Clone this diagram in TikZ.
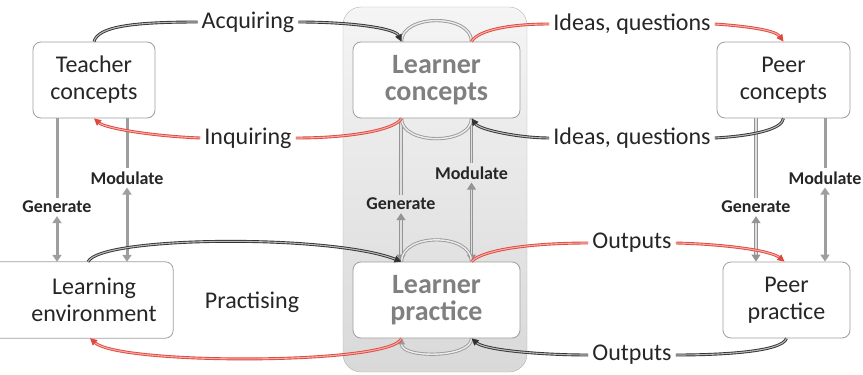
\documentclass[tikz,border=0pt]{standalone}
\usepackage{fontspec}
\setmainfont{Carlito}
\usetikzlibrary{arrows.meta,calc}
\definecolor{redline}{RGB}{224,72,62}
\definecolor{redfill}{RGB}{246,172,166}
\begin{document}
\begin{tikzpicture}[x=1pt,y=-1pt,
  boxline/.style={draw=black!38, rounded corners=8pt, fill=white, line width=0.8pt},
  box/.style={boxline, minimum height=76pt, align=center, inner sep=0pt,
    font=\fontsize{24}{27}\selectfont, text=black!85},
  lbox/.style={box, font=\fontsize{28}{27}\selectfont\bfseries, text=black!50},
  plain/.style={minimum height=76pt, align=center, inner sep=0pt,
    font=\fontsize{24}{27}\selectfont, text=black!85},
  lbl/.style={font=\fontsize{24}{27}\selectfont, text=black!85, inner sep=4pt},
  slbl/.style={font=\fontsize{18}{20}\selectfont\bfseries, text=black!85, inner sep=3pt},
  blk/.style={draw=black!80, double=gray!55, line width=0.9pt, double distance=1.1pt},
  redc/.style={draw=redline, double=redfill, line width=0.9pt, double distance=1.1pt},
  tip/.style={-{Triangle[length=7pt,width=7pt]}},
  garr/.style={draw=black!38, line width=3pt, {Triangle[length=7pt,width=9pt]}-{Triangle[length=7pt,width=9pt]}},
  gdbl/.style={draw=black!42, double=gray!25, line width=1pt, double distance=1.2pt, {Triangle[length=7pt,width=9pt]}-{Triangle[length=7pt,width=9pt]}},
  garc/.style={draw=black!40, double=gray!15, line width=0.9pt, double distance=1.4pt},
]
\useasboundingbox (0,0) rectangle (863,375);
\clip (0,0) rectangle (863,375);

% group background
\node[draw=black!30, rounded corners=18pt, top color=gray!8, bottom color=gray!30,
  minimum width=184pt, minimum height=365pt, inner sep=0pt] (grp) at (435,189.5) {};

% boxes
\node[box, minimum width=122pt] (tc) at (94,80) {Teacher\\concepts};
\node[plain, minimum width=158pt] (le) at (94,300) {Learning\\environment};
\draw[boxline] ([xshift=-30pt]le.south west) rectangle (le.north east);
\node[plain, minimum width=158pt] at (94,300) {Learning\\environment};
\node[lbox, minimum width=167pt] (lc) at (436.5,80) {Learner\\concepts};
\node[lbox, minimum width=167pt] (lp) at (436.5,300) {Learner\\practice};
\node[box, minimum width=133pt] (pc) at (783.5,80) {Peer\\concepts};
\node[box, minimum width=127pt] (pp) at (786.5,300) {Peer\\practice};

% labels
\node[lbl] (acq) at (248,22) {Acquiring};
\node[lbl] (inq) at (248,138) {Inquiring};
\node[lbl] (iq1) at (632,24) {Ideas, questions};
\node[lbl] (iq2) at (632,138) {Ideas, questions};
\node[lbl] (out1) at (632,243) {Outputs};
\node[lbl] (out2) at (632,355) {Outputs};
\node[lbl] (prac) at (252,302) {Practising};

\node[slbl] (gen1) at (57,207) {Generate};
\node[slbl] (mod1) at (127,178) {Modulate};
\node[slbl] (gen2) at (401,204) {Generate};
\node[slbl] (mod2) at (471.5,173) {Modulate};
\node[slbl] (gen3) at (756,207) {Generate};
\node[slbl] (mod3) at (825,178) {Modulate};

% vertical arrows
\draw[garr] (tc.south -| gen1) -- (gen1) -- (le.north -| gen1);
\draw[garr] (tc.south -| mod1) -- (mod1) -- (le.north -| mod1);
\draw[gdbl] (lc.south -| gen2) -- (gen2) -- (lp.north -| gen2);
\draw[gdbl] (lc.south -| mod2) -- (mod2) -- (lp.north -| mod2);
\draw[gdbl] (pc.south -| gen3) -- (gen3) -- (pp.north -| gen3);
\draw[garr] (pc.south -| mod3) -- (mod3) -- (pp.north -| mod3);

% self arcs
\draw[garc] ([xshift=-35pt]lc.north) .. controls +(0,-28) and +(0,-28) .. ([xshift=35pt]lc.north);
\draw[garc] ([xshift=-35pt]lc.south) .. controls +(0,27) and +(0,27) .. ([xshift=35pt]lc.south);
\draw[garc] ([xshift=-35pt]lp.north) .. controls +(0,-29) and +(0,-29) .. ([xshift=35pt]lp.north);
\draw[garc, -{Triangle[length=6pt,width=7pt]}] ([xshift=35pt]lp.south) .. controls +(0,20) and +(0,20) .. ([xshift=-35pt]lp.south);

% connectors
\draw[blk] (tc.north) .. controls (98,27) and (130,22) .. (acq.west);
\draw[blk,tip] (acq.east) .. controls (350,22) and (395,28) .. ([xshift=-35pt]lc.north);

\draw[redc] ([xshift=35pt]lc.north) .. controls (478,30) and (510,24) .. (iq1.west);
\draw[redc,tip] (iq1.east) .. controls (745,26) and (775,30) .. (pc.north);

\draw[redc] ([xshift=-35pt]lc.south) .. controls (395,130) and (350,138) .. (inq.east);
\draw[redc,tip] (inq.west) .. controls (150,136) and (105,128) .. (tc.south);

\draw[blk] (pc.south) .. controls (782,130) and (750,136) .. (iq2.east);
\draw[blk,tip] (iq2.west) .. controls (520,138) and (480,130) .. ([xshift=35pt]lc.south);

\draw[blk,tip] ([xshift=-6pt]le.north) .. controls (100,236) and (330,234) .. ([xshift=-35pt]lp.north);

\draw[redc] ([xshift=35pt]lp.north) .. controls (482,250) and (530,243) .. (out1.west);
\draw[redc,tip] (out1.east) .. controls (720,244) and (770,250) .. ([xshift=-2pt]pp.north);

\draw[redc,tip] ([xshift=-35pt]lp.south) .. controls (392,365) and (120,365) .. ([xshift=-4pt]le.south);

\draw[blk] (pp.south) .. controls (782,352) and (720,355) .. (out2.east);
\draw[blk,tip] (out2.west) .. controls (540,355) and (485,350) .. ([xshift=35pt]lp.south);
\end{tikzpicture}
\end{document}
